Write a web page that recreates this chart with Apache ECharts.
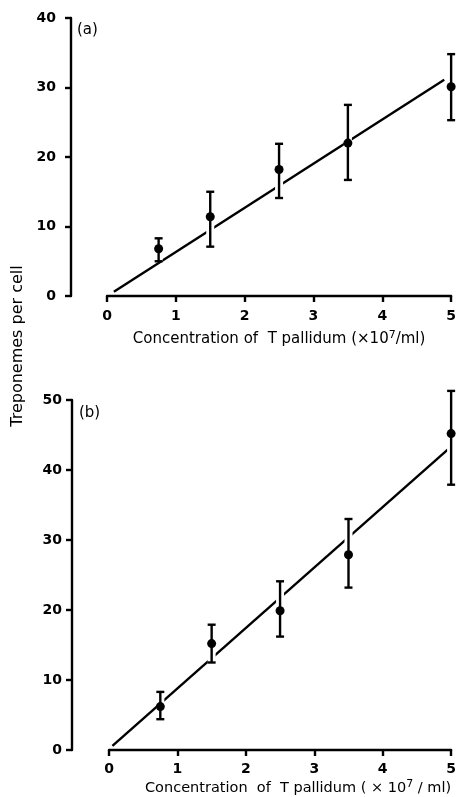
<!DOCTYPE html>
<html>
<head>
<meta charset="utf-8">
<script src="https://cdn.jsdelivr.net/npm/echarts@6/dist/echarts.min.js"></script>
<style>
html,body{margin:0;padding:0;background:#fff;}
#chart{width:459px;height:797px;}
</style>
</head>
<body>
<div id="chart"></div>
<script>
// Panel (a)
var concA = [0.75, 1.5, 2.5, 3.5, 5];
var meanA = [6.8, 11.4, 18.2, 22.0, 30.1];
var lowA = [5.0, 7.1, 14.1, 16.7, 25.3];
var highA = [8.3, 15.0, 21.9, 27.5, 34.8];
var fitXA = [0.1, 4.9];
var fitYA = [0.6, 31.1];
// Panel (b)
var concB = [0.75, 1.5, 2.5, 3.5, 5];
var meanB = [6.2, 15.2, 19.9, 27.9, 45.2];
var lowB = [4.4, 12.5, 16.2, 23.2, 37.9];
var highB = [8.3, 17.9, 24.1, 33.0, 51.3];
var fitXB = [0.05, 4.95];
var fitYB = [0.6, 42.9];
// axes
var xTicks = [0, 1, 2, 3, 4, 5];
var yTicksA = [0, 10, 20, 30, 40];
var yTicksB = [0, 10, 20, 30, 40, 50];
var yTitle = 'Treponemes per cell';
var xTitleA = 'Concentration of  T pallidum (×10{s|7}/ml)';
var xTitleB = 'Concentration  of  T pallidum ( × 10{s|7} / ml)';

var FONT = 'DejaVu Sans';
var chart = echarts.init(document.getElementById('chart'), null, {renderer: 'canvas'});

function zip(a, b) { return a.map(function (v, i) { return [v, b[i]]; }); }
function errData(x, lo, hi) { return x.map(function (v, i) { return [v, lo[i], hi[i]]; }); }

function errRender(params, api) {
  var x = api.value(0);
  var lo = api.coord([x, api.value(1)]);
  var hi = api.coord([x, api.value(2)]);
  var cw = 4;
  var st = {stroke: '#000', lineWidth: 2.4};
  return {
    type: 'group',
    children: [
      {type: 'line', shape: {x1: lo[0], y1: lo[1], x2: hi[0], y2: hi[1]}, style: {stroke: '#fff', lineWidth: 8}},
      {type: 'line', shape: {x1: lo[0], y1: lo[1], x2: hi[0], y2: hi[1]}, style: st},
      {type: 'line', shape: {x1: lo[0] - cw, y1: lo[1], x2: lo[0] + cw, y2: lo[1]}, style: st},
      {type: 'line', shape: {x1: hi[0] - cw, y1: hi[1], x2: hi[0] + cw, y2: hi[1]}, style: st}
    ]
  };
}

function xAxis(gi, title, gap, margin, fs, shift) {
  return {
    type: 'value', gridIndex: gi, min: 0, max: 5, interval: 1,
    axisLine: {show: true, onZero: false, lineStyle: {color: '#000', width: 2.4}},
    axisTick: {show: true, inside: false, length: 6, lineStyle: {color: '#000', width: 2.4}},
    axisLabel: {color: '#000', fontFamily: FONT, fontSize: 14, fontWeight: 'bold', margin: margin},
    splitLine: {show: false},
    name: title, nameLocation: 'middle', nameGap: gap,
    nameTextStyle: {color: '#000', fontFamily: FONT, fontSize: fs, padding: [0, 0, 0, shift],
      rich: {s: {fontSize: 11, verticalAlign: 'top', padding: [0, 0, 8, 0], color: '#000', fontFamily: FONT}}}
  };
}
function yAxis(gi, max, offset, margin) {
  return {
    type: 'value', gridIndex: gi, min: 0, max: max, interval: 10, offset: offset,
    axisLine: {show: true, onZero: false, lineStyle: {color: '#000', width: 2.4}},
    axisTick: {show: true, inside: false, length: 6, lineStyle: {color: '#000', width: 2.4}},
    axisLabel: {color: '#000', fontFamily: FONT, fontSize: 14, fontWeight: 'bold', margin: margin},
    splitLine: {show: false}
  };
}

var option = {
  backgroundColor: '#fff',
  animation: false,
  grid: [
    {left: 107, top: 18, width: 346, height: 278},
    {left: 109, top: 400, width: 347, height: 351}
  ],
  xAxis: [xAxis(0, xTitleA, 34, 13, 15, 0), xAxis(1, xTitleB, 29, 12, 14.5, 36)],
  yAxis: [yAxis(0, 40, 36, 15), yAxis(1, 50, 37, 10)],
  graphic: [
    {type: 'text', rotation: Math.PI / 2, x: 18, y: 346,
      style: {text: yTitle, fill: '#000', font: '16px "DejaVu Sans"', textAlign: 'center', textVerticalAlign: 'middle'}},
    {type: 'text', x: 77, y: 23, style: {text: '(a)', fill: '#000', font: '15px "DejaVu Sans"'}},
    {type: 'text', x: 79, y: 406, style: {text: '(b)', fill: '#000', font: '15px "DejaVu Sans"'}}
  ],
  series: [
    {type: 'line', xAxisIndex: 0, yAxisIndex: 0, data: zip(fitXA, fitYA), symbol: 'none',
      lineStyle: {color: '#000', width: 2.4}, z: 1},
    {type: 'custom', xAxisIndex: 0, yAxisIndex: 0, data: errData(concA, lowA, highA), renderItem: errRender, z: 2},
    {type: 'scatter', xAxisIndex: 0, yAxisIndex: 0, data: zip(concA, meanA), symbolSize: 9,
      itemStyle: {color: '#000', opacity: 1}, z: 3},
    {type: 'line', xAxisIndex: 1, yAxisIndex: 1, data: zip(fitXB, fitYB), symbol: 'none',
      lineStyle: {color: '#000', width: 2.4}, z: 1},
    {type: 'custom', xAxisIndex: 1, yAxisIndex: 1, data: errData(concB, lowB, highB), renderItem: errRender, z: 2, clip: false},
    {type: 'scatter', xAxisIndex: 1, yAxisIndex: 1, data: zip(concB, meanB), symbolSize: 9,
      itemStyle: {color: '#000', opacity: 1}, z: 3}
  ]
};
chart.setOption(option);
</script>
</body>
</html>
